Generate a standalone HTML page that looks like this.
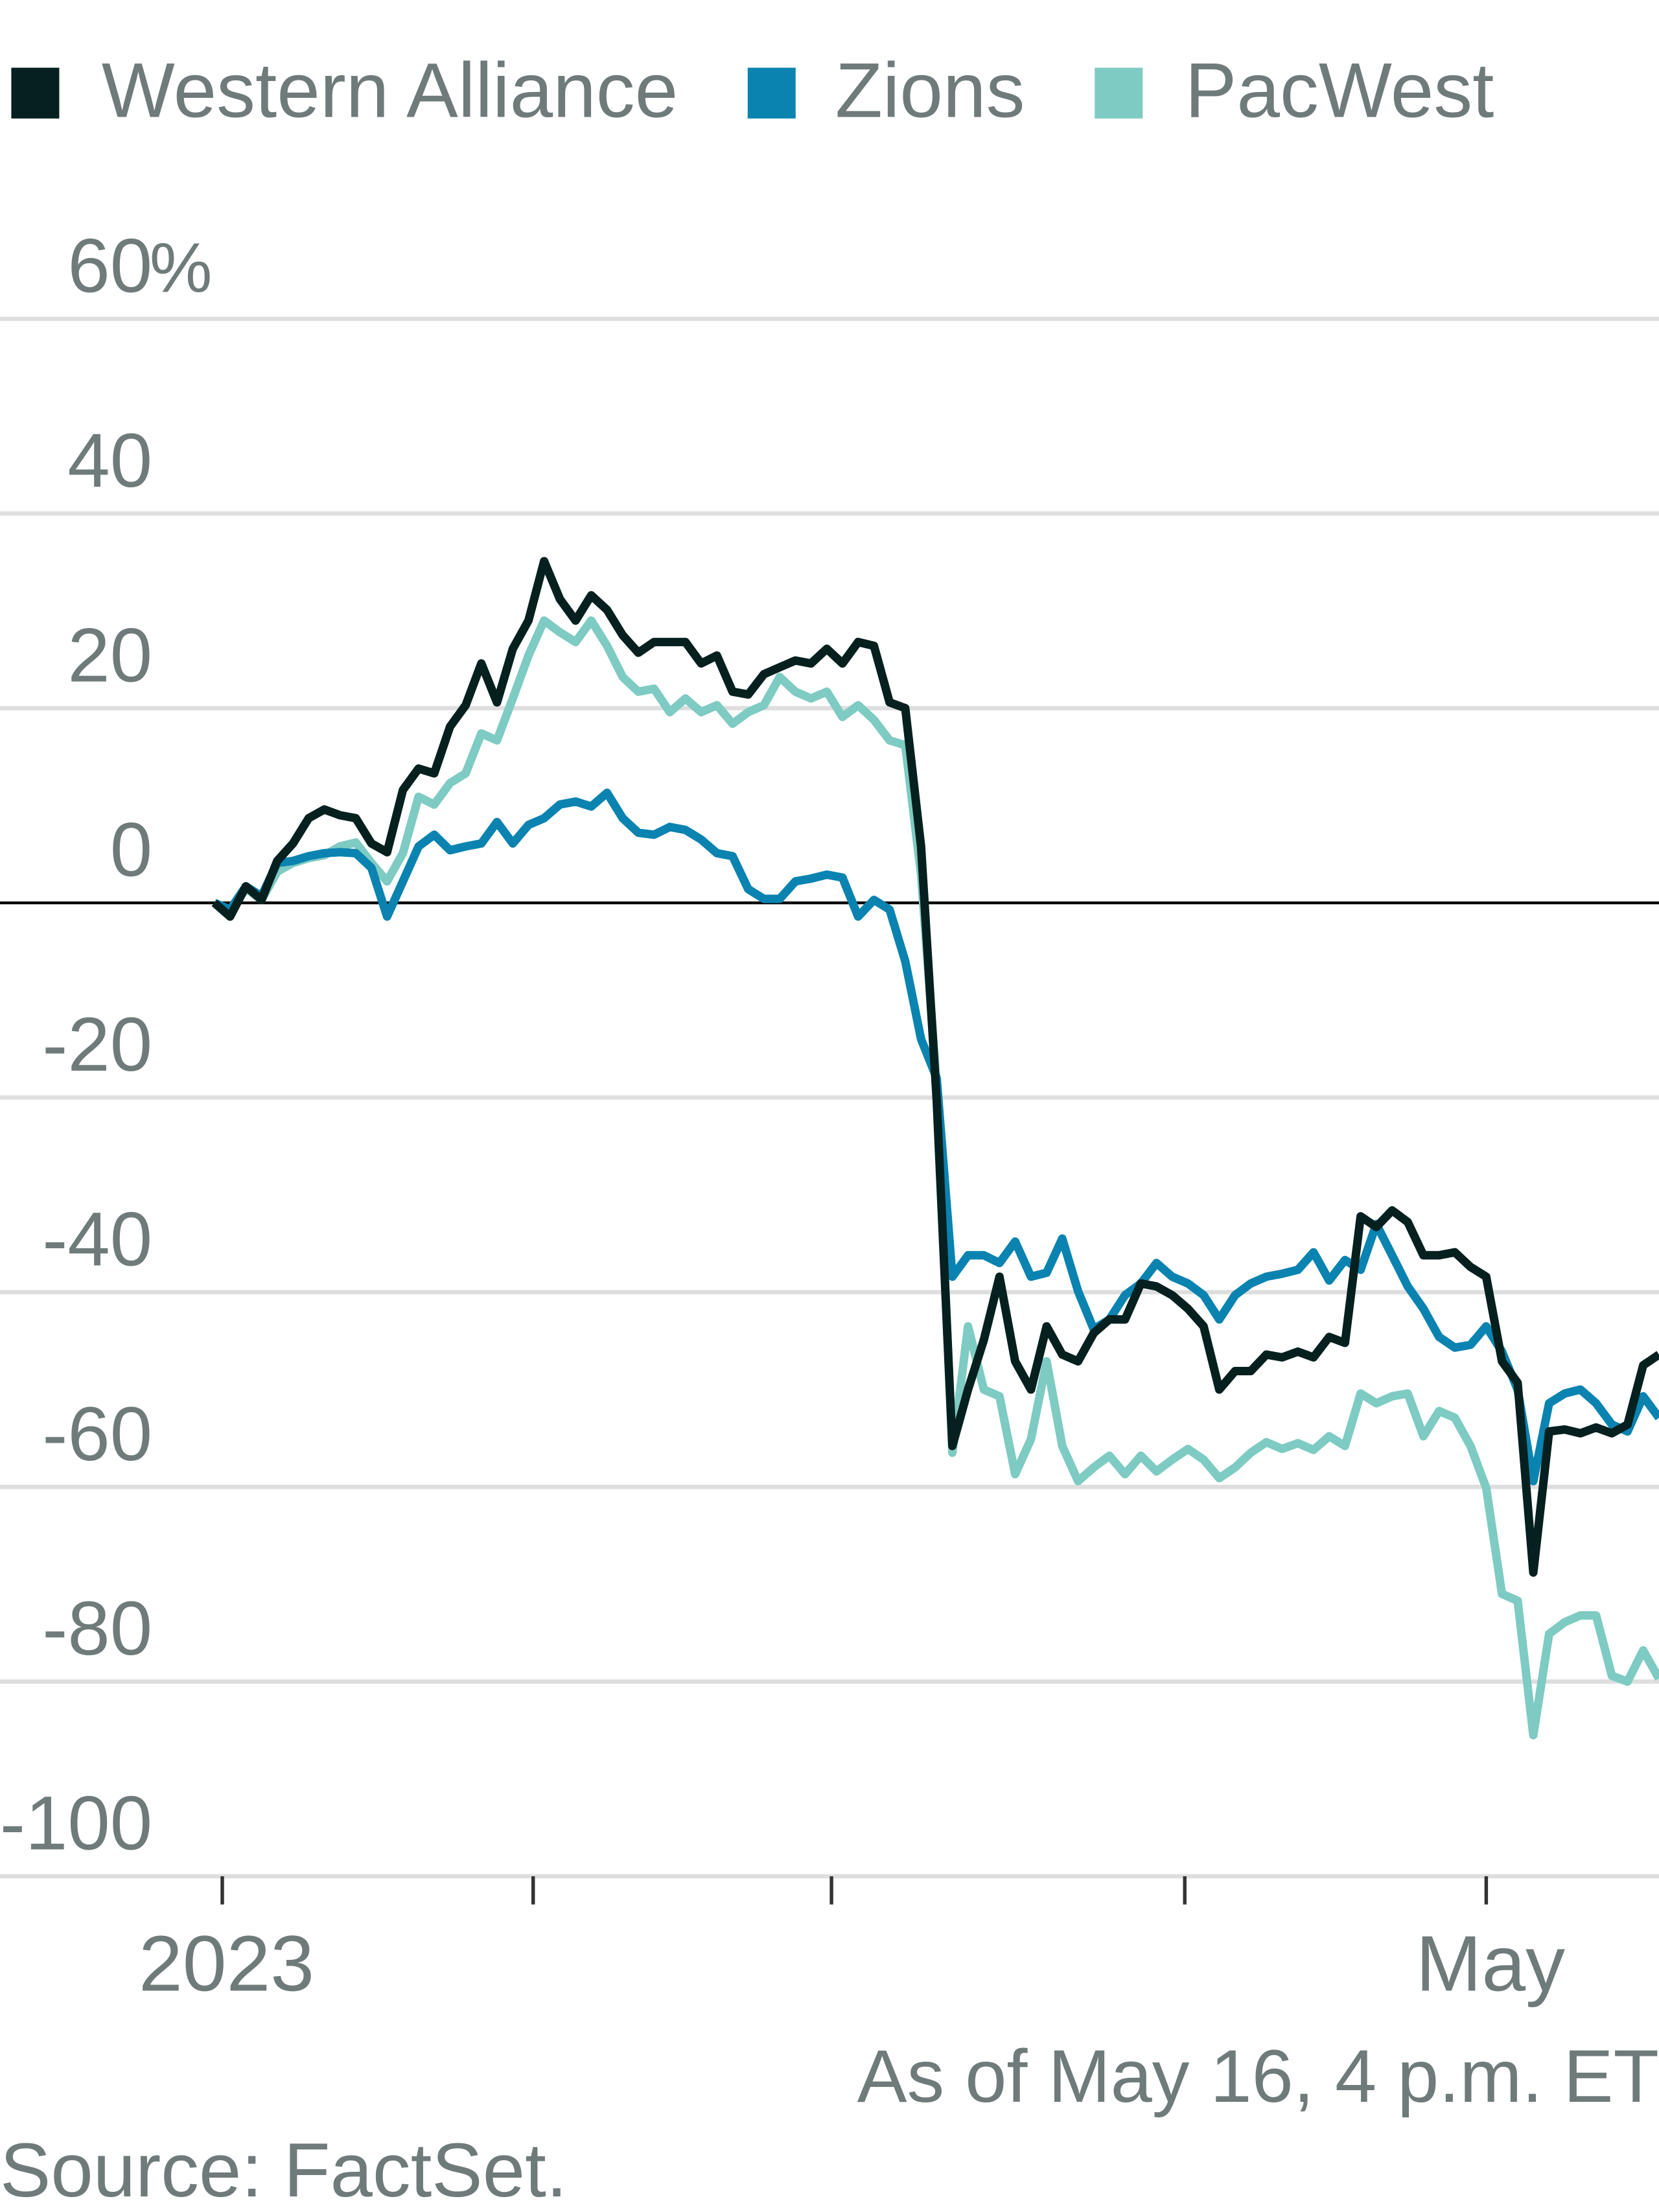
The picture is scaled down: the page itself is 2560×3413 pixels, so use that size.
<!DOCTYPE html>
<html><head><meta charset="utf-8"><style>
html,body{margin:0;padding:0;background:#fff;}
svg{display:block;}
text{font-family:"Liberation Sans",sans-serif;}
</style></head><body>
<svg width="2560" height="3413" viewBox="0 0 1176 1568" preserveAspectRatio="none" xmlns="http://www.w3.org/2000/svg">
<g>
<rect x="8" y="48" width="34" height="36" fill="#05201f"/>
<text x="72" y="83" font-size="55" fill="#6f7b7a">Western Alliance</text>
<rect x="530" y="48" width="34" height="36" fill="#0a83b0"/>
<text x="592" y="83" font-size="55" fill="#6f7b7a">Zions</text>
<rect x="776" y="48" width="34" height="36" fill="#7ecbc3"/>
<text x="840" y="83" font-size="55" fill="#6f7b7a">PacWest</text>
</g>
<g id="grid"></g>
<g id="series"></g>
<g id="xaxis"></g>
<text x="1176" y="1490" font-size="53" fill="#6f7b7a" text-anchor="end">As of May 16, 4 p.m. ET</text>
<text x="0" y="1557" font-size="54" fill="#6f7b7a">Source: FactSet.</text>
</svg>
<script>
const yTicks=[60,40,20,0,-20,-40,-60,-80,-100];
const yTickLabels=["60","40","20","0","-20","-40","-60","-80","-100"];
const xTickIdx=[0.5,20.3,39.3,61.8,81];
const xTickLabels=["2023","","","","May"];
const westernAlliance=[0,-1.4,1.7,0.3,4.3,6.1,8.7,9.6,9.0,8.7,6.1,5.2,11.6,13.8,13.3,18.1,20.3,24.6,20.6,26.1,29.0,35.1,31.2,29.0,31.6,30.1,27.5,25.7,26.8,26.8,26.8,24.6,25.4,21.7,21.4,23.5,24.2,24.9,24.6,26.1,24.6,26.8,26.4,20.6,20.0,5.8,-20.3,-55.8,-50,-44.9,-38.4,-47.1,-50,-43.5,-46.4,-47.1,-44.2,-42.8,-42.8,-39.1,-39.4,-40.3,-41.7,-43.5,-50,-48.1,-48.1,-46.4,-46.7,-46.1,-46.7,-44.6,-45.2,-32.2,-33.3,-31.6,-32.8,-36.2,-36.2,-35.9,-37.4,-38.4,-47.1,-49.3,-68.8,-54.3,-54.1,-54.5,-53.9,-54.5,-53.6,-47.5,-46.4];
const zions=[0,-0.7,1.7,0.7,4.1,4.3,4.8,5.1,5.2,5.1,3.6,-1.4,2.2,5.8,7.0,5.4,5.8,6.1,8.3,6.1,8.0,8.7,10.1,10.4,9.9,11.3,8.7,7.2,7.0,7.8,7.5,6.5,5.1,4.8,1.4,0.4,0.4,2.2,2.5,2.9,2.6,-1.4,0.3,-0.7,-6,-14,-18,-38.4,-36.2,-36.2,-37,-34.8,-38.4,-38,-34.5,-39.9,-43.8,-42.8,-40.3,-39.1,-37,-38.4,-39.1,-40.3,-42.8,-40.3,-39.1,-38.4,-38.1,-37.7,-35.9,-38.8,-36.7,-37.7,-33,-36.2,-39.4,-41.7,-44.6,-45.7,-45.4,-43.5,-46.1,-50,-59.4,-51.4,-50.4,-50,-51.4,-53.6,-54.3,-50.7,-52.9];
const pacWest=[0,-1,1.5,0.3,3.2,4.1,4.6,4.9,5.8,6.2,4.1,2.2,5.1,10.9,10.1,12.3,13.3,17.4,16.7,21.0,25.4,29.0,27.8,26.8,29.0,26.4,23.2,21.7,22.0,19.6,21.0,19.6,20.3,18.4,19.6,20.3,23.2,21.7,21.0,21.7,19.1,20.3,18.8,16.7,16.2,2.9,-18.8,-56.5,-43.5,-50,-50.7,-58.7,-55.1,-47.1,-55.8,-59.4,-58,-56.8,-58.7,-56.8,-58.4,-57.2,-56.1,-57.2,-59.1,-58,-56.5,-55.4,-56.1,-55.5,-56.2,-54.8,-55.8,-50.4,-51.4,-50.7,-50.4,-54.8,-52.2,-52.9,-55.8,-60.1,-71,-71.7,-85.5,-75.1,-73.9,-73.2,-73.2,-79.4,-80,-76.8,-79.7];
const NS="http://www.w3.org/2000/svg";
const yS=v=>640-v*6.9;
const xS=i=>152+i*11.13;
function mk(tag,attrs,parent){const e=document.createElementNS(NS,tag);for(const k in attrs)e.setAttribute(k,attrs[k]);parent.appendChild(e);return e;}
const grid=document.getElementById('grid');
yTicks.forEach((v,k)=>{
  const l=mk('line',{x1:0,x2:1176,y1:yS(v),y2:yS(v),stroke:v===0?'#000':'#dedede','stroke-width':v===0?2:3},grid);
  
  
  const t=mk('text',{x:108,y:yS(v)-19,'font-size':54,fill:'#6f7b7a','text-anchor':'end'},grid);
  t.textContent=yTickLabels[k];
  
  
  if(k===0){
    const p=mk('text',{x:106,y:yS(v)-19,'font-size':50,fill:'#6f7b7a'},grid);
    p.textContent='%';
    
    
  }
});
const xa=document.getElementById('xaxis');
xTickIdx.forEach((d,k)=>{
  const l=mk('line',{x1:xS(d),x2:xS(d),y1:1330,y2:1350,stroke:'#333','stroke-width':2.5},xa);
  
  
  if(xTickLabels[k]){
    const t=mk('text',{x:xS(d)+3,y:1411,'font-size':56,fill:'#6f7b7a','text-anchor':'middle'},xa);
    t.textContent=xTickLabels[k];
    
    
  }
});
const sg=document.getElementById('series');
[[pacWest,'#7ecbc3','pacwest-line'],[zions,'#0a83b0','zions-line'],[westernAlliance,'#05201f','western-alliance-line']].forEach(([arr,c,n])=>{
  const p=mk('path',{d:arr.map((v,i)=>(i?'L':'M')+xS(i).toFixed(1)+','+yS(v).toFixed(1)).join(''),fill:'none',stroke:c,'stroke-width':6,'stroke-linejoin':'round'},sg);
  
  
});
</script>
</body></html>
